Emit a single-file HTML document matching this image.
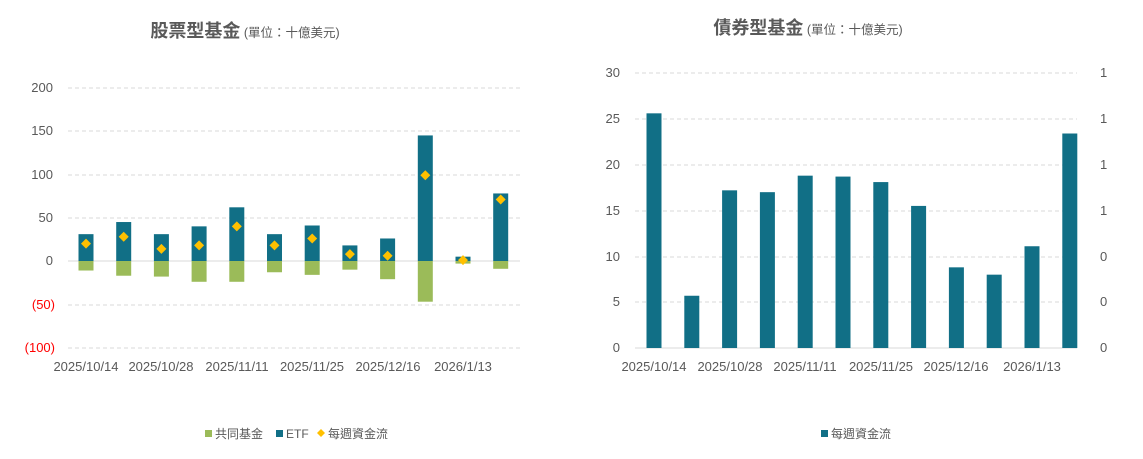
<!DOCTYPE html>
<html><head><meta charset="utf-8"><style>
body{margin:0;background:#fff;width:1143px;height:454px;overflow:hidden;font-family:"Liberation Sans","Noto Sans CJK TC",sans-serif}
</style></head><body>
<svg width="1143" height="454" xmlns="http://www.w3.org/2000/svg" font-family="Liberation Sans, Noto Sans CJK TC, sans-serif">
<text x="245" y="37" text-anchor="middle" fill="#595959"><tspan font-size="18" font-weight="bold">股票型基金</tspan><tspan font-size="12.5"> (單位：十億美元)</tspan></text>
<text x="808" y="34" text-anchor="middle" fill="#595959"><tspan font-size="18" font-weight="bold">債券型基金</tspan><tspan font-size="12.5"> (單位：十億美元)</tspan></text>
<g stroke="#d9d9d9" stroke-dasharray="4,3">
<line x1="68" x2="520" y1="88" y2="88"/><line x1="68" x2="520" y1="131" y2="131"/><line x1="68" x2="520" y1="175" y2="175"/><line x1="68" x2="520" y1="218" y2="218"/><line x1="68" x2="520" y1="305" y2="305"/><line x1="68" x2="520" y1="348" y2="348"/>
<line x1="635" x2="1077" y1="73" y2="73"/><line x1="635" x2="1077" y1="119" y2="119"/><line x1="635" x2="1077" y1="165" y2="165"/><line x1="635" x2="1077" y1="211" y2="211"/><line x1="635" x2="1077" y1="257" y2="257"/><line x1="635" x2="1077" y1="302" y2="302"/>
</g>
<line x1="68" x2="520" y1="261" y2="261" stroke="#d9d9d9"/>
<line x1="635" x2="1077" y1="348" y2="348" stroke="#d9d9d9"/>
<g font-size="13" fill="#595959" text-anchor="end">
<text x="53" y="92">200</text><text x="53" y="135">150</text><text x="53" y="179">100</text><text x="53" y="222">50</text><text x="53" y="265">0</text>
<text x="55" y="309" fill="#ff0000">(50)</text><text x="55" y="352" fill="#ff0000">(100)</text>
<text x="620" y="77">30</text><text x="620" y="123">25</text><text x="620" y="169">20</text><text x="620" y="215">15</text><text x="620" y="261">10</text><text x="620" y="306">5</text><text x="620" y="352">0</text>
</g>
<g font-size="13" fill="#595959">
<text x="1100" y="77">1</text><text x="1100" y="123">1</text><text x="1100" y="169">1</text><text x="1100" y="215">1</text><text x="1100" y="261">0</text><text x="1100" y="306">0</text><text x="1100" y="352">0</text>
</g>
<g font-size="13" fill="#595959" text-anchor="middle">
<text x="86" y="371">2025/10/14</text><text x="161" y="371">2025/10/28</text><text x="237" y="371">2025/11/11</text><text x="312" y="371">2025/11/25</text><text x="388" y="371">2025/12/16</text><text x="463" y="371">2026/1/13</text>
<text x="654" y="371">2025/10/14</text><text x="730" y="371">2025/10/28</text><text x="805" y="371">2025/11/11</text><text x="881" y="371">2025/11/25</text><text x="956" y="371">2025/12/16</text><text x="1032" y="371">2026/1/13</text>
</g>
<g id="L"></g>
<script>
var s=0.866,z=261,ns="http://www.w3.org/2000/svg",g=document.getElementById('L');
function r(x,y,w,h,c){var e=document.createElementNS(ns,'rect');e.setAttribute('x',x);e.setAttribute('y',y);e.setAttribute('width',w);e.setAttribute('height',h);e.setAttribute('fill',c);g.appendChild(e);}
var etf=[31,45,31,40,62,31,41,18,26,145,5,78],mf=[-11,-17,-18,-24,-24,-13,-16,-10,-21,-47,-3,-9],d=[20,28,14,18,40,18,26,8,6,99,1,71];
for(var i=0;i<12;i++){var cx=86+i*37.7;r(cx-7.5,z-etf[i]*s,15,etf[i]*s,'#116f86');r(cx-7.5,z,15,-mf[i]*s,'#9bbb59');
var p=document.createElementNS(ns,'polygon'),y=z-d[i]*s;p.setAttribute('points',(cx)+','+(y-5)+' '+(cx+5)+','+y+' '+cx+','+(y+5)+' '+(cx-5)+','+y);p.setAttribute('fill','#ffc000');g.appendChild(p);}
var b=[25.6,5.7,17.2,17,18.8,18.7,18.1,15.5,8.8,8,11.1,23.4];
for(var i=0;i<12;i++){var cx=654+i*37.8,h=b[i]*275/30;r(cx-7.5,348-h,15,h,'#116f86');}
</script>
<rect x="205" y="430" width="7" height="7" fill="#9bbb59"/><text x="215" y="438" font-size="12" fill="#595959">共同基金</text>
<rect x="276" y="430" width="7" height="7" fill="#116f86"/><text x="286" y="438" font-size="12" fill="#595959">ETF</text>
<polygon points="321,429 325,433 321,437 317,433" fill="#ffc000"/><text x="328" y="438" font-size="12" fill="#595959">每週資金流</text>
<rect x="821" y="430" width="7" height="7" fill="#116f86"/><text x="831" y="438" font-size="12" fill="#595959">每週資金流</text>
</svg>
</body></html>
